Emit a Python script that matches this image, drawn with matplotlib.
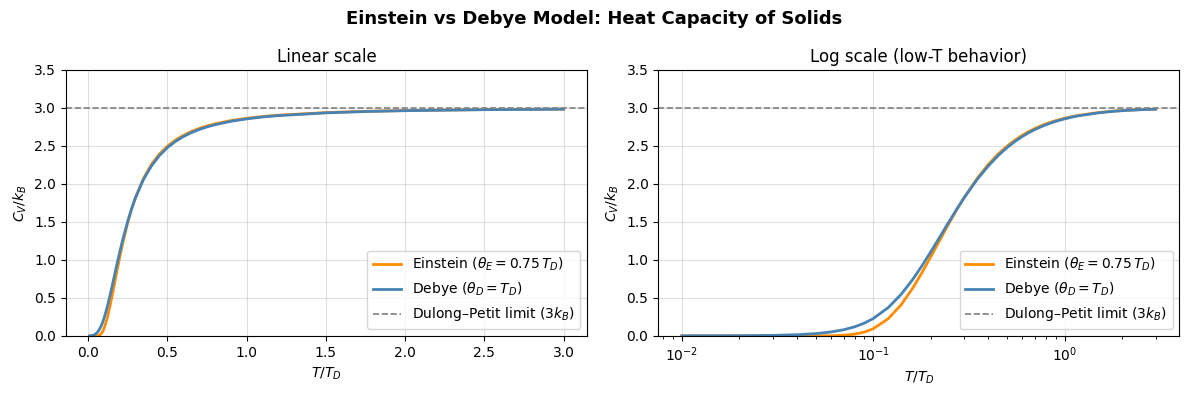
import numpy as np
from matplotlib import pyplot as plt

# reduced temperature T/T_D (same grid used on both panels)
t_ratio = [0.01, 0.015, 0.02, 0.03, 0.04, 0.05, 0.06, 0.07, 0.08, 0.09,
           0.10, 0.12, 0.14, 0.16, 0.18, 0.20, 0.22, 0.25, 0.275, 0.30,
           0.35, 0.40, 0.45, 0.50, 0.55, 0.60, 0.65, 0.70, 0.75, 0.80,
           0.90, 1.0, 1.1, 1.2, 1.5, 1.75, 2.0, 2.5, 3.0]

# heat capacity C_V / k_B
cv_einstein = [0.0, 0.0, 0.0, 0.0, 0.0000076, 0.000207, 0.00175, 0.00764, 0.0224, 0.050,
               0.0934, 0.227, 0.409, 0.618, 0.833, 1.041, 1.233, 1.489, 1.671, 1.827,
               2.074, 2.257, 2.393, 2.495, 2.575, 2.638, 2.688, 2.729, 2.762, 2.790,
               2.832, 2.863, 2.886, 2.904, 2.938, 2.955, 2.965, 2.978, 2.984]
cv_debye = [0.000234, 0.000789, 0.00187, 0.00631, 0.01496, 0.0292, 0.0505, 0.0802, 0.1191, 0.1682,
            0.2275, 0.3734, 0.5465, 0.7335, 0.9234, 1.106, 1.278, 1.509, 1.677, 1.823,
            2.061, 2.237, 2.373, 2.476, 2.557, 2.621, 2.673, 2.715, 2.749, 2.778,
            2.823, 2.855, 2.880, 2.898, 2.934, 2.952, 2.963, 2.976, 2.983]

dulong_petit = 3.0

fig, axes = plt.subplots(1, 2, figsize=(11.89, 3.97), dpi=100)

for ax, title in zip(axes, ['Linear scale', 'Log scale (low-T behavior)']):
    ax.plot(t_ratio, cv_einstein, color='darkorange', lw=2,
            label=r'Einstein ($\theta_E = 0.75\,T_D$)')
    ax.plot(t_ratio, cv_debye, color='steelblue', lw=2,
            label=r'Debye ($\theta_D = T_D$)')
    ax.axhline(dulong_petit, color='gray', ls='--', lw=1.2,
               label=r'Dulong–Petit limit ($3k_B$)')
    ax.set_ylim(0, 3.5)
    ax.set_xlabel(r'$T/T_D$')
    ax.set_ylabel(r'$C_V/k_B$')
    ax.set_title(title)
    ax.grid(True, alpha=0.4)
    ax.legend(loc='lower right')

axes[1].set_xscale('log')

fig.suptitle('Einstein vs Debye Model: Heat Capacity of Solids',
             fontsize=13, fontweight='bold', y=0.975)
fig.subplots_adjust(left=0.0555, right=0.992, top=0.824, bottom=0.154, wspace=0.136)
fig.savefig('out.png')
